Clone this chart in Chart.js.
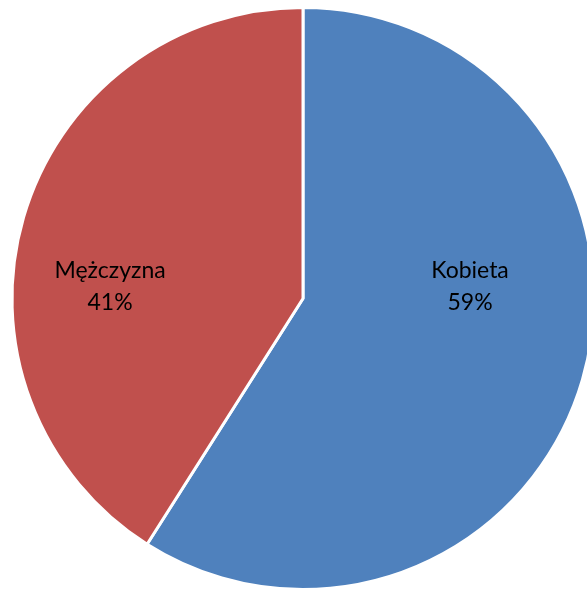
<!DOCTYPE html>
<html>
<head>
<meta charset="utf-8">
<script src="https://cdn.jsdelivr.net/npm/chart.js@4"></script>
<style>
	html, body {
		margin: 0;
		padding: 0;
		background: #ffffff;
		overflow: hidden;
		width: 587px;
		height: 591px;
	}
	.chart-box {
		position: absolute;
		left: 0;
		top: 6px;
		width: 606px;
		height: 585px;
	}
</style>
</head>
<body>
<div class="chart-box"><canvas id="pieChart"></canvas></div>
<script>
// Chart data
const categories = ["Kobieta", "Mężczyzna"];
const shares = [59, 41];
const sliceColors = ["#4F81BD", "#C0504D"];

// Label placement, as fractions of the pie radius (dx, dy from the centre)
const labelOffsets = [
	[0.574, -0.04],
	[-0.663, -0.04],
];

// Draws "name / percent" labels inside each slice
const sliceLabels = {
	id: "sliceLabels",
	afterDatasetsDraw(chart) {
		const { ctx } = chart;
		const meta = chart.getDatasetMeta(0);
		ctx.save();
		ctx.fillStyle = "#000000";
		ctx.font = "23px Lato, 'Open Sans', sans-serif";
		ctx.textAlign = "center";
		ctx.textBaseline = "middle";
		meta.data.forEach((arc, i) => {
			const r = arc.outerRadius;
			const x = arc.x + labelOffsets[i][0] * r;
			const y = arc.y + labelOffsets[i][1] * r;
			ctx.fillText(categories[i], x, y - 16);
			ctx.fillText(shares[i] + "%", x, y + 16);
		});
		ctx.restore();
	},
};

document.addEventListener("DOMContentLoaded", function () {
	const ctx = document.getElementById("pieChart");

	new Chart(ctx, {
		type: "pie",
		data: {
			labels: categories,
			datasets: [
				{
					data: shares,
					backgroundColor: sliceColors,
					borderColor: "#ffffff",
					borderWidth: 3,
				},
			],
		},
		options: {
			responsive: true,
			maintainAspectRatio: false,
			animation: false,
			layout: { padding: 0 },
			plugins: {
				legend: { display: false },
				tooltip: { enabled: false },
			},
		},
		plugins: [sliceLabels],
	});
});
</script>
</body>
</html>
